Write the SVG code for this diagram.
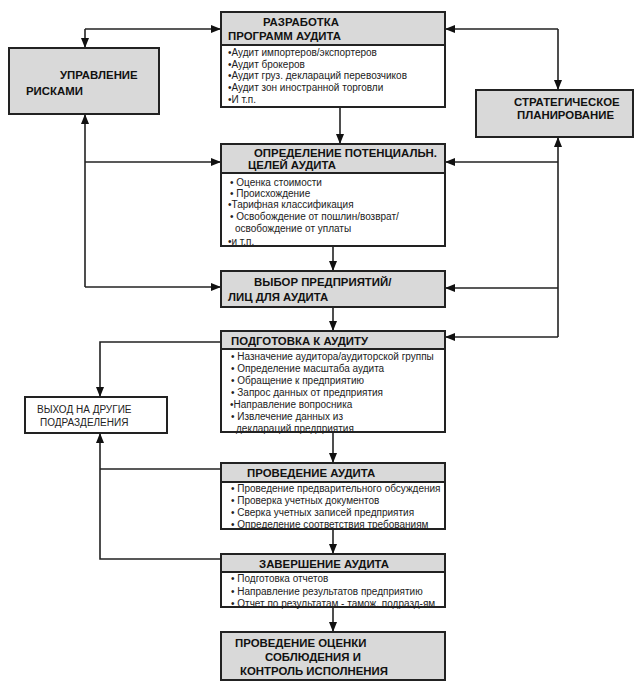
<svg xmlns="http://www.w3.org/2000/svg" width="640" height="697" viewBox="0 0 640 697">
<defs>
<marker id="ah" viewBox="0 0 10 8" refX="10" refY="4" markerWidth="10" markerHeight="8" markerUnits="userSpaceOnUse" orient="auto">
<path d="M0,0 L10,4 L0,8 Z" fill="#111"/>
</marker>
</defs>
<style>
.g{fill:#d9d9d9;stroke:#222;stroke-width:2}
.w{fill:#fff;stroke:#222;stroke-width:2}
.b{fill:none;stroke:#222;stroke-width:2}
.h{font-family:"Liberation Sans",Arial,sans-serif;font-weight:bold;font-size:11.4px;fill:#111}
.t{font-family:"Liberation Sans",Arial,sans-serif;font-size:10px;fill:#222}
.c{fill:none;stroke:#222;stroke-width:1.6}
</style>
<rect width="640" height="697" fill="#fff"/>

<g id="connectors">
<path class="c" d="M85,29 H221" marker-end="url(#ah)"/>
<path class="c" d="M85,29 V48" marker-end="url(#ah)"/>
<path class="c" d="M85,287 V114" marker-end="url(#ah)"/>
<path class="c" d="M85,162 H221" marker-end="url(#ah)"/>
<path class="c" d="M85,287 H221" marker-end="url(#ah)"/>
<path class="c" d="M558,29 H445" marker-end="url(#ah)"/>
<path class="c" d="M558,29 V90" marker-end="url(#ah)"/>
<path class="c" d="M558,337 V137" marker-end="url(#ah)"/>
<path class="c" d="M558,162 H445" marker-end="url(#ah)"/>
<path class="c" d="M558,288 H445" marker-end="url(#ah)"/>
<path class="c" d="M558,337 H445" marker-end="url(#ah)"/>
<path class="c" d="M340,107 V144" marker-end="url(#ah)"/>
<path class="c" d="M333,246 V271" marker-end="url(#ah)"/>
<path class="c" d="M333,307 V331" marker-end="url(#ah)"/>
<path class="c" d="M333,432 V463" marker-end="url(#ah)"/>
<path class="c" d="M333,529 V554" marker-end="url(#ah)"/>
<path class="c" d="M333,607 V632" marker-end="url(#ah)"/>
<path class="c" d="M221,342 H100 V397" marker-end="url(#ah)"/>
<path class="c" d="M221,559 H100 V433" marker-end="url(#ah)"/>
<path class="c" d="M221,469 H100"/>
</g>

<g id="razrabotka">
<rect class="w" x="221" y="12" width="224" height="95"/>
<rect class="g" x="221" y="12" width="224" height="33"/>
<text class="h" x="263" y="26">РАЗРАБОТКА</text>
<text class="h" x="228" y="40">ПРОГРАММ АУДИТА</text>
<text class="t" x="228" y="56">•Аудит импортеров/экспортеров</text>
<text class="t" x="228" y="67.5">•Аудит брокеров</text>
<text class="t" x="228" y="79">•Аудит груз. деклараций перевозчиков</text>
<text class="t" x="228" y="90.5">•Аудит зон иностранной торговли</text>
<text class="t" x="228" y="103">•И т.п.</text>
<rect class="b" x="221" y="12" width="224" height="95"/>
</g>

<g id="upravlenie">
<rect class="g" x="9" y="48" width="150" height="66"/>
<text class="h" x="60" y="79">УПРАВЛЕНИЕ</text>
<text class="h" x="26" y="95">РИСКАМИ</text>
</g>

<g id="strategicheskoe">
<rect class="g" x="476" y="90" width="157" height="47"/>
<text class="h" x="514" y="106">СТРАТЕГИЧЕСКОЕ</text>
<text class="h" x="517" y="119">ПЛАНИРОВАНИЕ</text>
</g>

<g id="opredelenie">
<rect class="w" x="221" y="144" width="224" height="102"/>
<rect class="g" x="221" y="144" width="224" height="29"/>
<text class="h" x="254" y="157">ОПРЕДЕЛЕНИЕ ПОТЕНЦИАЛЬН.</text>
<text class="h" x="248" y="169">ЦЕЛЕЙ АУДИТА</text>
<text class="t" x="230" y="185.5">• Оценка стоимости</text>
<text class="t" x="230" y="196.5">• Происхождение</text>
<text class="t" x="228" y="207.5">•Тарифная классификация</text>
<text class="t" x="230" y="219.5">• Освобождение от пошлин/возврат/</text>
<text class="t" x="235" y="232">освобождение от уплаты</text>
<text class="t" x="228" y="245">•и т.п.</text>
<rect class="b" x="221" y="144" width="224" height="102"/>
</g>

<g id="vybor">
<rect class="g" x="221" y="271" width="224" height="36"/>
<text class="h" x="254" y="286">ВЫБОР ПРЕДПРИЯТИЙ/</text>
<text class="h" x="228" y="301">ЛИЦ ДЛЯ АУДИТА</text>
</g>

<g id="podgotovka">
<rect class="w" x="221" y="331" width="224" height="101"/>
<rect class="g" x="221" y="331" width="224" height="18"/>
<text class="h" x="231" y="345">ПОДГОТОВКА К АУДИТУ</text>
<text class="t" x="231" y="359.5">• Назначение аудитора/аудиторской группы</text>
<text class="t" x="231" y="371.5">• Определение масштаба аудита</text>
<text class="t" x="231" y="383.5">• Обращение к предприятию</text>
<text class="t" x="231" y="395.5">• Запрос данных от предприятия</text>
<text class="t" x="230" y="407.5">•Направление вопросника</text>
<text class="t" x="231" y="419.5">• Извлечение данных из</text>
<text class="t" x="236" y="431.5">деклараций предприятия</text>
<rect class="b" x="221" y="331" width="224" height="101"/>
</g>

<g id="vyhod">
<rect class="w" x="25" y="397" width="142" height="36"/>
<text class="t" x="37" y="413">ВЫХОД НА ДРУГИЕ</text>
<text class="t" x="40" y="426">ПОДРАЗДЕЛЕНИЯ</text>
</g>

<g id="provedenie">
<rect class="w" x="221" y="463" width="224" height="66"/>
<rect class="g" x="221" y="463" width="224" height="19"/>
<text class="h" x="247" y="477">ПРОВЕДЕНИЕ АУДИТА</text>
<text class="t" x="231" y="492">• Проведение предварительного обсуждения</text>
<text class="t" x="231" y="504">• Проверка учетных документов</text>
<text class="t" x="231" y="516">• Сверка учетных записей предприятия</text>
<text class="t" x="231" y="528">• Определение соответствия требованиям</text>
<rect class="b" x="221" y="463" width="224" height="66"/>
</g>

<g id="zavershenie">
<rect class="w" x="221" y="554" width="224" height="53"/>
<rect class="g" x="221" y="554" width="224" height="18"/>
<text class="h" x="259" y="568">ЗАВЕРШЕНИЕ АУДИТА</text>
<text class="t" x="231" y="582">• Подготовка отчетов</text>
<text class="t" x="231" y="594.5">• Направление результатов предприятию</text>
<text class="t" x="231" y="607">• Отчет по результатам - тамож. подразд-ям</text>
<rect class="b" x="221" y="554" width="224" height="53"/>
</g>

<g id="ocenka">
<rect class="g" x="221" y="632" width="224" height="48"/>
<text class="h" x="235" y="647">ПРОВЕДЕНИЕ ОЦЕНКИ</text>
<text class="h" x="265" y="661">СОБЛЮДЕНИЯ И</text>
<text class="h" x="240" y="675">КОНТРОЛЬ ИСПОЛНЕНИЯ</text>
</g>
</svg>
